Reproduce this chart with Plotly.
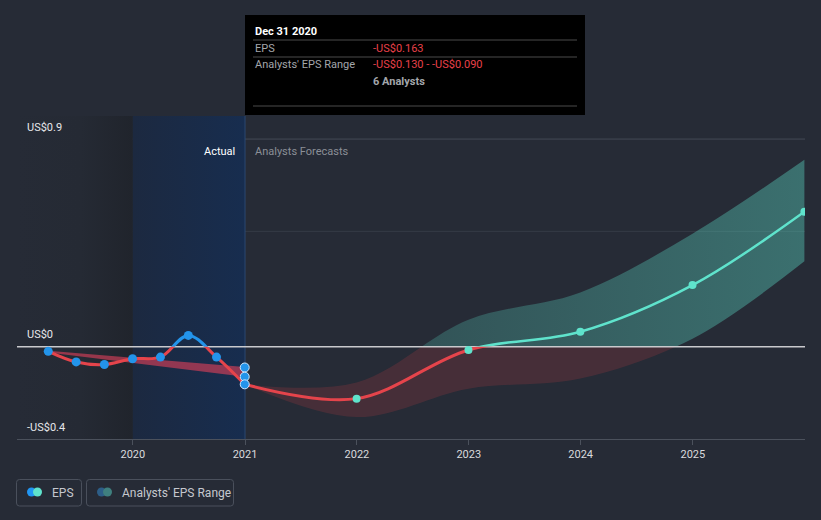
import plotly.graph_objects as go

# ---------------- data ----------------
actual_dates = ["2019-03-31", "2019-06-30", "2019-09-30", "2019-12-31",
                "2020-03-31", "2020-06-30", "2020-09-30", "2020-12-31"]
actual_eps = [-0.020, -0.066, -0.077, -0.052, -0.045, 0.049, -0.045, -0.163]

past_range_dates = ["2019-03-31", "2020-12-31"]
past_range_high = [-0.017, -0.088]
past_range_low = [-0.025, -0.130]

last_range_date = "2020-12-31"
last_range_vals = [-0.090, -0.130, -0.163]

fc_dates = ["2020-12-31", "2021-12-31", "2022-12-31", "2023-12-31", "2024-12-31", "2025-12-31"]
fc_eps = [-0.163, -0.225, -0.014, 0.065, 0.267, 0.585]
fc_high = [-0.163, -0.155, 0.117, 0.235, 0.490, 0.810]
fc_low = [-0.163, -0.305, -0.182, -0.138, 0.035, 0.370]

year_ticks = ["2020-01-01", "2021-01-01", "2022-01-01", "2023-01-01", "2024-01-01", "2025-01-01"]
year_labels = ["2020", "2021", "2022", "2023", "2024", "2025"]

y_labels = ["US$0.9", "US$0", "-US$0.4"]
y_label_vals = [0.9, 0.0, -0.4]
grid_vals = [0.9, 0.5]

# ---------------- geometry ----------------
W, H = 821, 520
ML, MR, MT, MB = 17, 16, 116, 81
PW, PH = W - ML - MR, H - MT - MB
X_START, X_END = "2018-12-19", "2026-01-02"
Y_MIN, Y_MAX = -0.4, 1.0
ZF = (0 - Y_MIN) / (Y_MAX - Y_MIN)
ACTUAL_START = "2020-01-01"
FC_START = "2021-01-01"


def px(x):
    return (x - ML) / PW


def py(y):
    return (H - MB - y) / PH


BG = "#262b36"
RED = "#e5444b"
BLUE = "#2394ea"
TEAL = "#5fe3cc"
FONT = "Roboto"

fig = go.Figure()

# ---- layer y: background regions, divider, past band
fig.add_trace(go.Scatter(
    x=[X_START, ACTUAL_START, ACTUAL_START, X_START, X_START],
    y=[Y_MIN, Y_MIN, Y_MAX, Y_MAX, Y_MIN], mode="none", fill="toself",
    fillgradient=dict(type="horizontal", colorscale=[[0, BG], [0.55, "#252a34"], [1, "#20242c"]]),
    yaxis="y", hoverinfo="skip", showlegend=False))
fig.add_trace(go.Scatter(
    x=[ACTUAL_START, FC_START, FC_START, ACTUAL_START, ACTUAL_START],
    y=[Y_MIN, Y_MIN, Y_MAX, Y_MAX, Y_MIN], mode="none", fill="toself",
    fillgradient=dict(type="horizontal", colorscale=[[0, "#1c2940"], [1, "#172d4f"]]),
    yaxis="y", hoverinfo="skip", showlegend=False))
fig.add_trace(go.Scatter(x=[FC_START, FC_START], y=[Y_MIN, Y_MAX], mode="lines",
                         line=dict(color="#2b4870", width=1), yaxis="y",
                         hoverinfo="skip", showlegend=False))
fig.add_trace(go.Scatter(x=past_range_dates, y=past_range_low, mode="lines",
                         line=dict(width=0), yaxis="y", hoverinfo="skip", showlegend=False))
fig.add_trace(go.Scatter(x=past_range_dates, y=past_range_high, mode="lines",
                         line=dict(width=0), fill="tonexty",
                         fillcolor="rgba(210,62,88,0.66)", yaxis="y",
                         hoverinfo="skip", showlegend=False))

# ---- layers y2 / y3: forecast band, teal above zero, red below
fig.add_trace(go.Scatter(x=fc_dates, y=fc_low, mode="lines", line=dict(width=0, shape="spline"),
                         yaxis="y3", hoverinfo="skip", showlegend=False))
fig.add_trace(go.Scatter(x=fc_dates, y=fc_high, mode="lines", line=dict(width=0, shape="spline"),
                         fill="tonexty", fillcolor="rgba(232,65,74,0.17)",
                         yaxis="y3", hoverinfo="skip", showlegend=False))
fig.add_trace(go.Scatter(x=fc_dates, y=fc_low, mode="lines", line=dict(width=0, shape="spline"),
                         yaxis="y2", hoverinfo="skip", showlegend=False))
fig.add_trace(go.Scatter(x=fc_dates, y=fc_high, mode="lines", line=dict(width=0, shape="spline"),
                         fill="tonexty",
                         fillgradient=dict(type="horizontal",
                                           colorscale=[[0, "rgba(93,224,203,0.15)"],
                                                       [1, "rgba(93,224,203,0.38)"]]),
                         yaxis="y2", hoverinfo="skip", showlegend=False))

# ---- layer y4: zero line
fig.add_trace(go.Scatter(x=[X_START, X_END], y=[0, 0], mode="lines",
                         line=dict(color="#c9cacd", width=1.5), yaxis="y4",
                         hoverinfo="skip", showlegend=False))

# ---- layers y5 / y6: EPS lines (upper colour / red below zero)
fig.add_trace(go.Scatter(x=actual_dates, y=actual_eps, mode="lines",
                         line=dict(color=BLUE, width=3, shape="spline"), yaxis="y5",
                         hoverinfo="skip", showlegend=False))
fig.add_trace(go.Scatter(x=fc_dates, y=fc_eps, mode="lines",
                         line=dict(color=TEAL, width=2.5, shape="spline"), yaxis="y5",
                         hoverinfo="skip", showlegend=False))
fig.add_trace(go.Scatter(x=actual_dates, y=actual_eps, mode="lines",
                         line=dict(color=RED, width=3, shape="spline"), yaxis="y6",
                         hoverinfo="skip", showlegend=False))
fig.add_trace(go.Scatter(x=fc_dates, y=fc_eps, mode="lines",
                         line=dict(color=RED, width=3, shape="spline"), yaxis="y6",
                         hoverinfo="skip", showlegend=False))

# ---- layer y7: markers
fig.add_trace(go.Scatter(x=actual_dates[:-1], y=actual_eps[:-1], mode="markers",
                         marker=dict(color=BLUE, size=9), yaxis="y7", cliponaxis=False,
                         hoverinfo="skip", showlegend=False))
fig.add_trace(go.Scatter(x=[last_range_date] * len(last_range_vals), y=last_range_vals, mode="markers",
                         marker=dict(color=BLUE, size=9, line=dict(color="#cfe6fb", width=1)),
                         yaxis="y7", cliponaxis=False, hoverinfo="skip", showlegend=False))
fig.add_trace(go.Scatter(x=fc_dates[1:], y=fc_eps[1:], mode="markers",
                         marker=dict(color=TEAL, size=8), yaxis="y7", cliponaxis=True,
                         hoverinfo="skip", showlegend=False))

shapes = []
for gv, gc in zip(grid_vals, ["#444a56", "#353b46"]):
    shapes.append(dict(type="line", xref="paper", x0=0, x1=1, yref="y", y0=gv, y1=gv,
                       line=dict(color=gc, width=1), layer="below"))

# tooltip
shapes.append(dict(type="rect", xref="paper", yref="paper", x0=px(245), x1=px(585),
                   y0=py(115), y1=py(15), fillcolor="#000000", line=dict(width=0)))
for ly in [40, 57, 106]:
    shapes.append(dict(type="line", xref="paper", yref="paper", x0=px(253), x1=px(577),
                       y0=py(ly), y1=py(ly), line=dict(color="#4a4a4a", width=1)))


def rrect(x0, y0, x1, y1, r):
    def P(a, b):
        return f"{px(a)},{py(b)}"
    path = (f"M {P(x0 + r, y0)} L {P(x1 - r, y0)} Q {P(x1, y0)} {P(x1, y0 + r)} "
            f"L {P(x1, y1 - r)} Q {P(x1, y1)} {P(x1 - r, y1)} L {P(x0 + r, y1)} "
            f"Q {P(x0, y1)} {P(x0, y1 - r)} L {P(x0, y0 + r)} Q {P(x0, y0)} {P(x0 + r, y0)} Z")
    return dict(type="path", xref="paper", yref="paper", path=path,
                line=dict(color="#4a505c", width=1), fillcolor="rgba(0,0,0,0)")


shapes.append(rrect(16.5, 479.5, 81.5, 506, 3))
shapes.append(rrect(86.5, 479.5, 233.5, 506, 3))


def circ(cx, cy, r, color):
    return dict(type="circle", xref="paper", yref="paper", x0=px(cx - r), x1=px(cx + r),
                y0=py(cy + r), y1=py(cy - r), fillcolor=color, line=dict(width=0))


shapes += [circ(31.5, 492, 4.5, "#2196f3"), circ(37.5, 492, 4.5, TEAL),
           circ(101.5, 492, 4.5, "#2d5e88"), circ(107.5, 492, 4.5, "#3f807f")]

ann = []
for lab, v in zip(y_labels, y_label_vals):
    ann.append(dict(text=lab, xref="paper", x=px(25), yref="y", y=v, yshift=12,
                    xanchor="left", yanchor="middle", showarrow=False,
                    font=dict(family=FONT, size=11, color="#e6e7ea")))
ann.append(dict(text="Actual", xref="x", x=FC_START, xshift=-8, yref="paper", y=py(151),
                xanchor="right", yanchor="middle", showarrow=False,
                font=dict(family=FONT, size=11, color="#ffffff")))
ann.append(dict(text="Analysts Forecasts", xref="x", x=FC_START, xshift=8, yref="paper", y=py(151),
                xanchor="left", yanchor="middle", showarrow=False,
                font=dict(family=FONT, size=11, color="#8b8f97")))


def tt(text, x, y, color, bold=False, size=11):
    return dict(text=f"<b>{text}</b>" if bold else text, xref="paper", yref="paper",
                x=px(x), y=py(y), xanchor="left", yanchor="middle", showarrow=False,
                font=dict(family=FONT, size=size, color=color))


ann += [tt("Dec 31 2020", 253, 31, "#ffffff", True),
        tt("EPS", 253, 48, "#a3a6ab"),
        tt("-US$0.163", 371, 48, "#e8414a"),
        tt("Analysts' EPS Range", 253, 65, "#a3a6ab"),
        tt("-US$0.130 - -US$0.090", 371, 65, "#e8414a"),
        tt("6 Analysts", 371, 81, "#a3a6ab", True),
        tt("EPS", 50, 492.5, "#c5c8ce", size=12),
        tt("Analysts' EPS Range", 120, 492.5, "#c5c8ce", size=12)]

hidden = dict(visible=False, fixedrange=True, anchor="x")
fig.update_layout(
    width=W, height=H, autosize=False,
    margin=dict(l=ML, r=MR, t=MT, b=MB, pad=0),
    paper_bgcolor=BG, plot_bgcolor="rgba(0,0,0,0)",
    showlegend=False, hovermode=False,
    font=dict(family=FONT, color="#d9dadd"),
    xaxis=dict(type="date", range=[X_START, X_END], tickvals=year_ticks, ticktext=year_labels,
               showgrid=False, zeroline=False, showline=True, linecolor="#4b515c",
               ticks="outside", ticklen=5, tickcolor="#4b515c",
               tickfont=dict(family=FONT, size=11, color="#d9dadd"), anchor="y", fixedrange=True),
    yaxis=dict(domain=[0, 1], range=[Y_MIN, Y_MAX], visible=False, fixedrange=True),
    yaxis2=dict(domain=[ZF, 1], range=[0, Y_MAX], **hidden),
    yaxis3=dict(domain=[0, ZF], range=[Y_MIN, 0], **hidden),
    yaxis4=dict(domain=[0, 1], range=[Y_MIN, Y_MAX], **hidden),
    yaxis5=dict(domain=[ZF, 1], range=[0, Y_MAX], **hidden),
    yaxis6=dict(domain=[0, ZF], range=[Y_MIN, 0], **hidden),
    yaxis7=dict(domain=[0, 1], range=[Y_MIN, Y_MAX], **hidden),
    shapes=shapes, annotations=ann,
)

fig.write_html("out.html", config={"displayModeBar": False},
               post_script="document.body.style.margin='0';document.body.style.background='#262b36';")
